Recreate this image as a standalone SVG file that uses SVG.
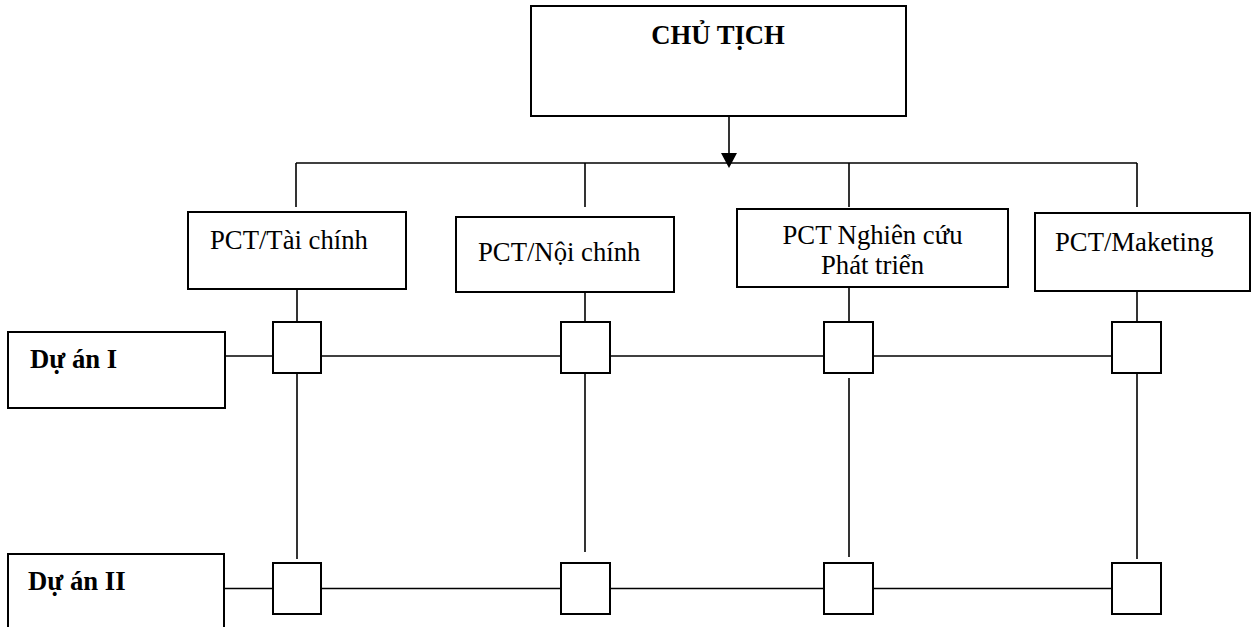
<svg xmlns="http://www.w3.org/2000/svg" width="1251" height="627" viewBox="0 0 1251 627">
<style>
.box{fill:#fff;stroke:#000;stroke-width:2}
.sq{fill:#fff;stroke:#000;stroke-width:2}
.ln{stroke:#000;stroke-width:1.6;fill:none}
.t{font-family:"Liberation Serif","Times New Roman",serif;font-size:26.7px;fill:#000}
.b{font-weight:bold}
</style>
<defs>
<marker id="arr" markerWidth="16" markerHeight="16" refX="7" refY="8" orient="auto" markerUnits="userSpaceOnUse" viewBox="0 0 16 16">
<path d="M0,0 L15,8 L0,16 Z" fill="#000"/>
</marker>
</defs>
<g id="connectors">
<line class="ln" x1="729" y1="116" x2="729" y2="160" marker-end="url(#arr)"/>
<line class="ln" x1="296" y1="163" x2="1137" y2="163"/>
<line class="ln" x1="296" y1="163" x2="296" y2="207"/>
<line class="ln" x1="585" y1="163" x2="585" y2="207"/>
<line class="ln" x1="849" y1="163" x2="849" y2="207"/>
<line class="ln" x1="1137" y1="163" x2="1137" y2="207"/>
<line class="ln" x1="297" y1="289" x2="297" y2="322"/>
<line class="ln" x1="585" y1="292" x2="585" y2="322"/>
<line class="ln" x1="849" y1="287" x2="849" y2="322"/>
<line class="ln" x1="1137" y1="291" x2="1137" y2="322"/>
<line class="ln" x1="225" y1="356" x2="1112" y2="356"/>
<line class="ln" x1="224" y1="588.5" x2="1112" y2="588.5"/>
<line class="ln" x1="297" y1="373" x2="297" y2="559"/>
<line class="ln" x1="585" y1="373" x2="585" y2="552"/>
<line class="ln" x1="849" y1="378" x2="849" y2="557"/>
<line class="ln" x1="1137" y1="373" x2="1137" y2="559"/>
</g>
<g id="chu-tich">
<rect class="box" x="531" y="6" width="375" height="110"/>
<text class="t b" x="718" y="44" text-anchor="middle">CHỦ TỊCH</text>
</g>
<g id="pct-tai-chinh">
<rect class="box" x="188" y="212" width="218" height="77"/>
<text class="t" x="210" y="249">PCT/Tài chính</text>
</g>
<g id="pct-noi-chinh">
<rect class="box" x="456" y="217" width="218" height="75"/>
<text class="t" x="478" y="261">PCT/Nội chính</text>
</g>
<g id="pct-nghien-cuu">
<rect class="box" x="737" y="209" width="271" height="78"/>
<text class="t" x="872.5" y="243.5" text-anchor="middle">PCT Nghiên cứu</text>
<text class="t" x="872.5" y="273.5" text-anchor="middle">Phát triển</text>
</g>
<g id="pct-maketing">
<rect class="box" x="1035" y="213" width="215" height="78"/>
<text class="t" x="1055" y="251">PCT/Maketing</text>
</g>
<g id="du-an-1">
<rect class="box" x="8" y="332" width="217" height="76"/>
<text class="t b" x="30" y="368">Dự án I</text>
</g>
<g id="du-an-2">
<rect class="box" x="8" y="554" width="216" height="80"/>
<text class="t b" x="28" y="590">Dự án II</text>
</g>
<g id="cells-row1">
<rect class="sq" x="273" y="322" width="48" height="51"/>
<rect class="sq" x="561" y="322" width="49" height="51"/>
<rect class="sq" x="824" y="322" width="49" height="51"/>
<rect class="sq" x="1112" y="322" width="49" height="51"/>
</g>
<g id="cells-row2">
<rect class="sq" x="273" y="563" width="48" height="51"/>
<rect class="sq" x="561" y="563" width="49" height="51"/>
<rect class="sq" x="824" y="563" width="49" height="51"/>
<rect class="sq" x="1112" y="563" width="49" height="51"/>
</g>
</svg>
